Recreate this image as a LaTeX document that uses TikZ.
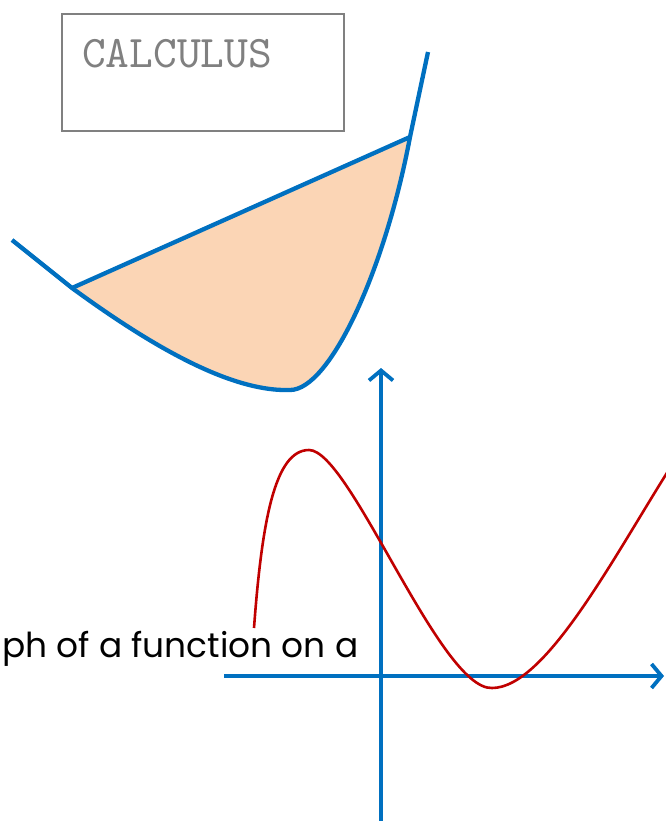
\documentclass[tikz,border=0pt]{standalone}
\usepackage{fontspec}
\usetikzlibrary{arrows.meta}
\newfontfamily\handfam{Poppins}
\definecolor{axisblue}{HTML}{0070C0}
\definecolor{curvered}{HTML}{C00000}
\definecolor{peach}{HTML}{FBD5B5}
\definecolor{boxgray}{HTML}{808080}
\tikzset{
  bluecurve/.style={draw=axisblue, line width=4.3pt, line join=round},
  axisline/.style={draw=axisblue, line width=3.8pt, -{Straight Barb[length=10pt,width=24pt,line width=3.8pt]}},
  redcurve/.style={draw=curvered, line width=2.6pt},
  titlebox/.style={draw=boxgray, line width=1.8pt}
}
\begin{document}
\begin{tikzpicture}[x=1pt,y=-1pt]
\useasboundingbox (0,0) rectangle (665,821);
% title box
\draw[titlebox] (62,14) rectangle (344,131);
\node[anchor=base west, inner sep=0pt, text=boxgray] (title) at (82,68)
  {\resizebox{190pt}{!}{\ttfamily CALCULUS}};
% shaded region
\coordinate (pA) at (72,288);
\coordinate (pB) at (410,137);
\fill[peach] (pA) .. controls (150,345) and (230,392) .. (290,390)
  .. controls (330,390) and (385,270) .. (pB) -- cycle;
% chord
\draw[bluecurve] (pA) -- (pB);
% curve
\coordinate (cStart) at (12,240);
\coordinate (cEnd) at (428,52);
\draw[bluecurve] (cStart) -- (pA) .. controls (150,345) and (230,392) .. (290,390)
  .. controls (330,390) and (385,270) .. (pB) -- (cEnd);
% axes
\coordinate (yb) at (381,821);
\coordinate (yt) at (381,368);
\coordinate (xl) at (224,676);
\coordinate (xr) at (664,676);
\draw[axisline] (yb) -- (yt);
\draw[axisline] (xl) -- (xr);
% red function
\coordinate (rStart) at (254,628);
\draw[redcurve] (rStart) .. controls (262,520) and (275,450) .. (309,450)
  .. controls (350,450) and (440,690) .. (492,688)
  .. controls (545,688) and (612,560) .. (670,468);
% label
\node[anchor=base west, inner sep=0pt] (lbl) at (2,657)
  {\resizebox{356pt}{!}{\handfam ph of a function on a}};
\end{tikzpicture}
\end{document}
